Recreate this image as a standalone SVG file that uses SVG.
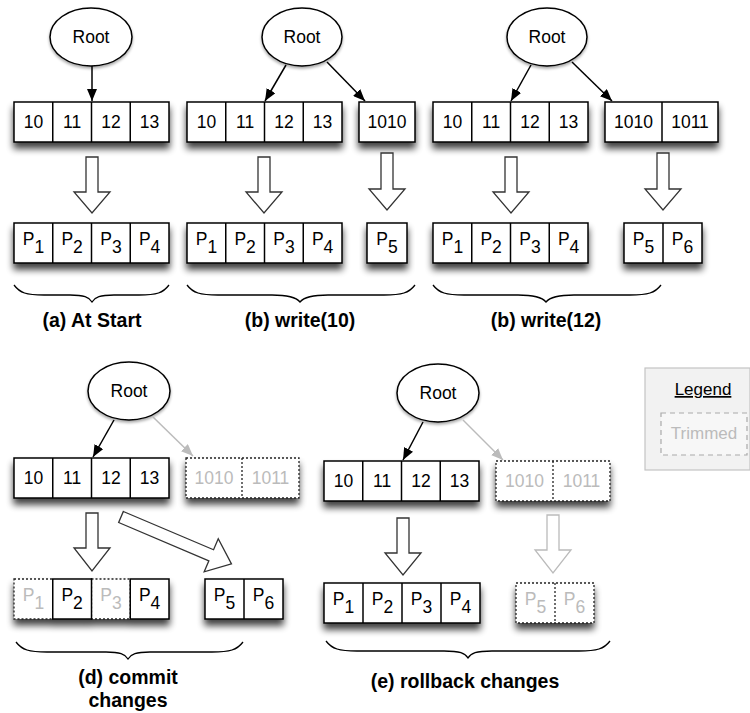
<svg xmlns="http://www.w3.org/2000/svg" width="750" height="713" viewBox="0 0 750 713">
<defs>
  <filter id="sh" x="-20%" y="-30%" width="140%" height="200%">
    <feGaussianBlur in="SourceAlpha" stdDeviation="3.5"/>
    <feOffset dy="6" result="b"/>
    <feComponentTransfer><feFuncA type="linear" slope="0.75"/></feComponentTransfer>
    <feMerge><feMergeNode/><feMergeNode in="SourceGraphic"/></feMerge>
  </filter>
  <filter id="shs" x="-20%" y="-30%" width="140%" height="170%">
    <feGaussianBlur in="SourceAlpha" stdDeviation="1.5"/>
    <feOffset dy="2" result="b"/>
    <feComponentTransfer><feFuncA type="linear" slope="0.35"/></feComponentTransfer>
    <feMerge><feMergeNode/><feMergeNode in="SourceGraphic"/></feMerge>
  </filter>
  <marker id="ah" viewBox="0 0 12 10" refX="12" refY="5" markerWidth="12" markerHeight="10" markerUnits="userSpaceOnUse" orient="auto">
    <path d="M0,0 L12,5 L0,10 z" fill="#000"/>
  </marker>
  <marker id="ahg" viewBox="0 0 12 10" refX="12" refY="5" markerWidth="12" markerHeight="10" markerUnits="userSpaceOnUse" orient="auto">
    <path d="M0,0 L12,5 L0,10 z" fill="#bbb"/>
  </marker>
</defs>
<style>
  text { font-family: "Liberation Sans", Arial, sans-serif; }
  .root { fill: #fff; stroke: #000; stroke-width: 1.5; }
  .rt { font-size: 17.5px; text-anchor: middle; fill: #000; }
  .box { fill: #fff; stroke: #000; stroke-width: 1.5; }
  .tbox { fill: #fff; stroke: #222; stroke-width: 1.3; stroke-dasharray: 2 2; }
  .div { stroke: #000; stroke-width: 1.5; }
  .tdiv { stroke: #222; stroke-width: 1.3; stroke-dasharray: 2 2; }
  .k { font-size: 17.5px; text-anchor: middle; fill: #000; }
  .tk { font-size: 17.5px; text-anchor: middle; fill: #bbb; }
  .p { font-size: 17.5px; text-anchor: middle; fill: #000; }
  .tp { font-size: 17.5px; text-anchor: middle; fill: #bbb; }
  .conn { stroke: #000; stroke-width: 1.5; fill: none; marker-end: url(#ah); }
  .gconn { stroke: #bbb; stroke-width: 1.5; fill: none; marker-end: url(#ahg); }
  .blk { fill: #fff; stroke: #333; stroke-width: 1.3; }
  .gblk { fill: #fff; stroke: #bbb; stroke-width: 1.3; }
  .brace { fill: none; stroke: #000; stroke-width: 1.3; }
  .lbl { font-size: 19.5px; font-weight: bold; text-anchor: middle; fill: #000; }
  .lg { font-size: 17px; text-anchor: middle; }
</style>

<!-- ===== Panel (a) ===== -->
<g id="a-root"><ellipse class="root" cx="91" cy="37" rx="41" ry="29" filter="url(#shs)"/><text class="rt" x="91" y="43">Root</text></g>
<g id="a-keys">
  <rect class="box" x="14" y="102" width="155" height="40" filter="url(#sh)"/>
  <line class="div" x1="52.75" y1="102" x2="52.75" y2="142"/><line class="div" x1="91.5" y1="102" x2="91.5" y2="142"/><line class="div" x1="130.25" y1="102" x2="130.25" y2="142"/>
  <text class="k" x="33.4" y="128">10</text><text class="k" x="72.1" y="128">11</text><text class="k" x="110.9" y="128">12</text><text class="k" x="149.6" y="128">13</text>
</g>
<g id="a-pages">
  <rect class="box" x="14" y="223" width="155" height="40" filter="url(#sh)"/>
  <line class="div" x1="52.75" y1="223" x2="52.75" y2="263"/><line class="div" x1="91.5" y1="223" x2="91.5" y2="263"/><line class="div" x1="130.25" y1="223" x2="130.25" y2="263"/>
  <text class="p" x="33.4" y="245">P<tspan dy="8">1</tspan></text><text class="p" x="72.1" y="245">P<tspan dy="8">2</tspan></text><text class="p" x="110.9" y="245">P<tspan dy="8">3</tspan></text><text class="p" x="149.6" y="245">P<tspan dy="8">4</tspan></text>
</g>
<g id="a-brace"><path class="brace" d="M14 285 C20 293 26 295 44 295 L70 295 C84 295 89 297 92 302 C95 297 100 295 114 295 L139 295 C157 295 163 293 169 285"/><text class="lbl" x="92" y="327">(a) At Start</text></g>

<!-- ===== Panel (b) ===== -->
<g id="b-root"><ellipse class="root" cx="302" cy="37" rx="40" ry="29" filter="url(#shs)"/><text class="rt" x="302" y="43">Root</text></g>
<g id="b-keys">
  <rect class="box" x="187" y="102" width="155" height="40" filter="url(#sh)"/>
  <line class="div" x1="225.75" y1="102" x2="225.75" y2="142"/><line class="div" x1="264.5" y1="102" x2="264.5" y2="142"/><line class="div" x1="303.25" y1="102" x2="303.25" y2="142"/>
  <text class="k" x="206.4" y="128">10</text><text class="k" x="245.1" y="128">11</text><text class="k" x="283.9" y="128">12</text><text class="k" x="322.6" y="128">13</text>
</g>
<g id="b-key1010">
  <rect class="box" x="359" y="102" width="56" height="40" filter="url(#sh)"/>
  <text class="k" x="387" y="128">1010</text>
</g>
<g id="b-pages">
  <rect class="box" x="187" y="223" width="155" height="40" filter="url(#sh)"/>
  <line class="div" x1="225.75" y1="223" x2="225.75" y2="263"/><line class="div" x1="264.5" y1="223" x2="264.5" y2="263"/><line class="div" x1="303.25" y1="223" x2="303.25" y2="263"/>
  <text class="p" x="206.4" y="245">P<tspan dy="8">1</tspan></text><text class="p" x="245.1" y="245">P<tspan dy="8">2</tspan></text><text class="p" x="283.9" y="245">P<tspan dy="8">3</tspan></text><text class="p" x="322.6" y="245">P<tspan dy="8">4</tspan></text>
</g>
<g id="b-p5">
  <rect class="box" x="367" y="223" width="40" height="40" filter="url(#sh)"/>
  <text class="p" x="387" y="245">P<tspan dy="8">5</tspan></text>
</g>
<g id="b-brace"><path class="brace" d="M187 285 C193 293 200 295 218 295 L272 295 C288 295 296 297 300 302 C304 297 312 295 328 295 L384 295 C402 295 409 293 415 285"/><text class="lbl" x="300" y="327">(b) write(10)</text></g>

<!-- ===== Panel (c) ===== -->
<g id="c-root"><ellipse class="root" cx="547" cy="37" rx="40" ry="29" filter="url(#shs)"/><text class="rt" x="547" y="43">Root</text></g>
<g id="c-keys">
  <rect class="box" x="433" y="102" width="155" height="40" filter="url(#sh)"/>
  <line class="div" x1="471.75" y1="102" x2="471.75" y2="142"/><line class="div" x1="510.5" y1="102" x2="510.5" y2="142"/><line class="div" x1="549.25" y1="102" x2="549.25" y2="142"/>
  <text class="k" x="452.4" y="128">10</text><text class="k" x="491.1" y="128">11</text><text class="k" x="529.9" y="128">12</text><text class="k" x="568.6" y="128">13</text>
</g>
<g id="c-key1010">
  <rect class="box" x="605" y="102" width="113" height="40" filter="url(#sh)"/>
  <line class="div" x1="662" y1="102" x2="662" y2="142"/>
  <text class="k" x="633.5" y="128">1010</text><text class="k" x="690" y="128">1011</text>
</g>
<g id="c-pages">
  <rect class="box" x="433" y="223" width="155" height="40" filter="url(#sh)"/>
  <line class="div" x1="471.75" y1="223" x2="471.75" y2="263"/><line class="div" x1="510.5" y1="223" x2="510.5" y2="263"/><line class="div" x1="549.25" y1="223" x2="549.25" y2="263"/>
  <text class="p" x="452.4" y="245">P<tspan dy="8">1</tspan></text><text class="p" x="491.1" y="245">P<tspan dy="8">2</tspan></text><text class="p" x="529.9" y="245">P<tspan dy="8">3</tspan></text><text class="p" x="568.6" y="245">P<tspan dy="8">4</tspan></text>
</g>
<g id="c-p56">
  <rect class="box" x="624" y="223" width="78" height="40" filter="url(#sh)"/>
  <line class="div" x1="663" y1="223" x2="663" y2="263"/>
  <text class="p" x="643.5" y="245">P<tspan dy="8">5</tspan></text><text class="p" x="682.5" y="245">P<tspan dy="8">6</tspan></text>
</g>
<g id="c-brace"><path class="brace" d="M433 285 C439 293 446 295 464 295 L518 295 C534 295 542 297 546 302 C550 297 558 295 574 295 L630 295 C648 295 655 293 661 285"/><text class="lbl" x="546" y="327">(b) write(12)</text></g>

<!-- ===== Panel (d) ===== -->
<g id="d-root"><ellipse class="root" cx="129" cy="391" rx="41" ry="29" filter="url(#shs)"/><text class="rt" x="129" y="397">Root</text></g>
<g id="d-keys">
  <rect class="box" x="14" y="458" width="155" height="40" filter="url(#sh)"/>
  <line class="div" x1="52.75" y1="458" x2="52.75" y2="498"/><line class="div" x1="91.5" y1="458" x2="91.5" y2="498"/><line class="div" x1="130.25" y1="458" x2="130.25" y2="498"/>
  <text class="k" x="33.4" y="484">10</text><text class="k" x="72.1" y="484">11</text><text class="k" x="110.9" y="484">12</text><text class="k" x="149.6" y="484">13</text>
</g>
<g id="d-key1010">
  <rect class="tbox" x="186" y="458" width="113" height="40" filter="url(#sh)"/>
  <line class="tdiv" x1="242" y1="458" x2="242" y2="498"/>
  <text class="tk" x="214" y="484">1010</text><text class="tk" x="270.5" y="484">1011</text>
</g>
<g id="d-pages">
  <g filter="url(#sh)">
    <rect class="tbox" x="14" y="579" width="38.75" height="40"/>
    <rect class="tbox" x="91.5" y="579" width="38.75" height="40"/>
    <rect class="box" x="52.75" y="579" width="38.75" height="40"/>
    <rect class="box" x="130.25" y="579" width="38.75" height="40"/>
  </g>
  <text class="tp" x="33.4" y="601">P<tspan dy="8">1</tspan></text><text class="p" x="72.1" y="601">P<tspan dy="8">2</tspan></text><text class="tp" x="110.9" y="601">P<tspan dy="8">3</tspan></text><text class="p" x="149.6" y="601">P<tspan dy="8">4</tspan></text>
</g>
<g id="d-p56">
  <rect class="box" x="205" y="579" width="78" height="40" filter="url(#sh)"/>
  <line class="div" x1="244" y1="579" x2="244" y2="619"/>
  <text class="p" x="224.5" y="601">P<tspan dy="8">5</tspan></text><text class="p" x="263.5" y="601">P<tspan dy="8">6</tspan></text>
</g>
<g id="d-brace"><path class="brace" d="M16 642 C22 650 29 652 47 652 L106 652 C120 652 125 654 128 659 C131 654 136 652 150 652 L212 652 C230 652 237 650 243 642"/><text class="lbl" x="128" y="684">(d) commit</text><text class="lbl" x="128" y="707">changes</text></g>

<!-- ===== Panel (e) ===== -->
<g id="e-root"><ellipse class="root" cx="438" cy="393" rx="41" ry="29" filter="url(#shs)"/><text class="rt" x="438" y="399">Root</text></g>
<g id="e-keys">
  <rect class="box" x="324" y="461" width="155" height="40" filter="url(#sh)"/>
  <line class="div" x1="362.75" y1="461" x2="362.75" y2="501"/><line class="div" x1="401.5" y1="461" x2="401.5" y2="501"/><line class="div" x1="440.25" y1="461" x2="440.25" y2="501"/>
  <text class="k" x="343.4" y="487">10</text><text class="k" x="382.1" y="487">11</text><text class="k" x="420.9" y="487">12</text><text class="k" x="459.6" y="487">13</text>
</g>
<g id="e-key1010">
  <rect class="tbox" x="496" y="461" width="114" height="40" filter="url(#sh)"/>
  <line class="tdiv" x1="553" y1="461" x2="553" y2="501"/>
  <text class="tk" x="524.5" y="487">1010</text><text class="tk" x="581.5" y="487">1011</text>
</g>
<g id="e-pages">
  <rect class="box" x="324" y="583" width="156" height="40" filter="url(#sh)"/>
  <line class="div" x1="363" y1="583" x2="363" y2="623"/><line class="div" x1="402" y1="583" x2="402" y2="623"/><line class="div" x1="441" y1="583" x2="441" y2="623"/>
  <text class="p" x="343.5" y="605">P<tspan dy="8">1</tspan></text><text class="p" x="382.5" y="605">P<tspan dy="8">2</tspan></text><text class="p" x="421.5" y="605">P<tspan dy="8">3</tspan></text><text class="p" x="460.5" y="605">P<tspan dy="8">4</tspan></text>
</g>
<g id="e-p56">
  <rect class="tbox" x="516" y="583" width="78" height="40" filter="url(#sh)"/>
  <line class="tdiv" x1="555" y1="583" x2="555" y2="623"/>
  <text class="tp" x="535.5" y="605">P<tspan dy="8">5</tspan></text><text class="tp" x="574.5" y="605">P<tspan dy="8">6</tspan></text>
</g>
<g id="e-brace"><path class="brace" d="M326 641 C332 649 339 651 357 651 L444 651 C460 651 465 653 468 658 C471 653 476 651 492 651 L579 651 C597 651 604 649 610 641"/><text class="lbl" x="465" y="688">(e) rollback changes</text></g>

<!-- ===== Legend ===== -->
<g id="legend">
  <rect x="645" y="368" width="105" height="102" fill="#f2f2f2" stroke="#c4c4c4" stroke-width="1.2"/>
  <text class="lg" x="703" y="395" fill="#000" text-decoration="underline">Legend</text>
  <rect x="661" y="413" width="86" height="42" fill="#f7f7f7" stroke="#aaa" stroke-width="1.2" stroke-dasharray="5 4"/>
  <text class="lg" x="704" y="439" fill="#bbb">Trimmed</text>
</g>

<!-- ===== Connectors ===== -->
<g id="connectors">
  <line class="conn" x1="92" y1="66" x2="92" y2="101"/>
  <line class="conn" x1="286" y1="65" x2="265" y2="101"/>
  <line class="conn" x1="327" y1="62" x2="365" y2="101"/>
  <line class="conn" x1="531" y1="65" x2="511" y2="101"/>
  <line class="conn" x1="572" y1="62" x2="612" y2="101"/>
  <line class="conn" x1="114" y1="420" x2="93" y2="457"/>
  <line class="gconn" x1="153" y1="417" x2="193" y2="456"/>
  <line class="conn" x1="423" y1="422" x2="403" y2="460"/>
  <line class="gconn" x1="463" y1="420" x2="503" y2="460"/>
  <path class="blk" d="M86 157 L98 157 L98 192 L110 192 L92 213 L74 192 L86 192 Z"/>
  <path class="blk" d="M258 157 L270 157 L270 192 L282 192 L264 213 L246 192 L258 192 Z"/>
  <path class="blk" d="M381 153 L393 153 L393 189 L405 189 L387 210 L369 189 L381 189 Z"/>
  <path class="blk" d="M505 157 L517 157 L517 192 L529 192 L511 213 L493 192 L505 192 Z"/>
  <path class="blk" d="M657 153 L669 153 L669 189 L681 189 L663 210 L645 189 L657 189 Z"/>
  <path class="blk" d="M86 513 L98 513 L98 548 L110 548 L92 571 L74 548 L86 548 Z"/>
  <path class="blk" transform="translate(121 517) rotate(23)" d="M0 -6 L98 -6 L98 -18 L120 0 L98 18 L98 6 L0 6 Z"/>
  <path class="blk" d="M397 518 L409 518 L409 553 L421 553 L403 575 L385 553 L397 553 Z"/>
  <path class="gblk" d="M547 515 L559 515 L559 550 L571 550 L553 573 L535 550 L547 550 Z"/>
</g>
</svg>
